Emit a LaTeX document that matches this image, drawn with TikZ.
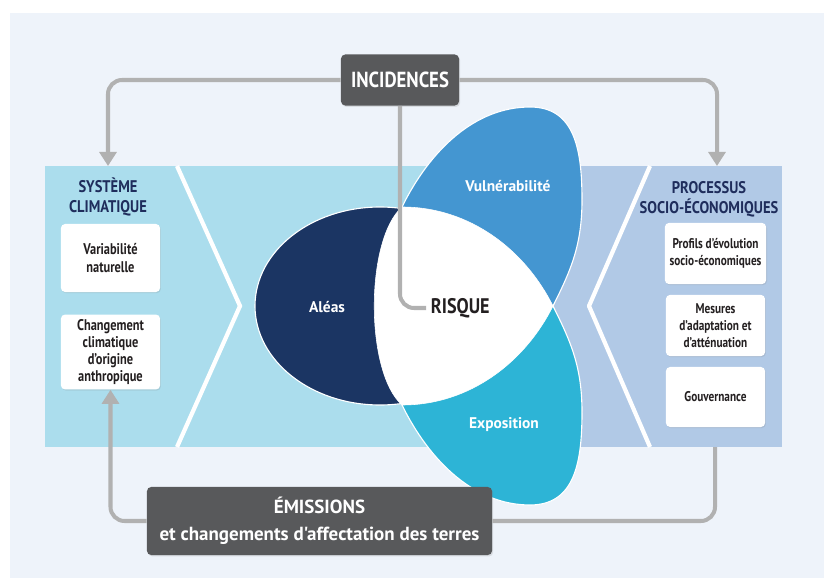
\documentclass[tikz,border=0pt]{standalone}
\usepackage{fontspec}
\setmainfont{PT Sans}[FakeStretch=0.8]
\newfontfamily\pleine{PT Sans}
\newfontfamily\etroite{PT Sans}[FakeStretch=0.86]
\usetikzlibrary{arrows.meta,shadows}
\definecolor{fond}{HTML}{EEF3FA}
\definecolor{bleuclair}{HTML}{ABDDED}
\definecolor{lavande}{HTML}{B1C9E6}
\definecolor{aleas}{HTML}{1B3563}
\definecolor{vuln}{HTML}{4496D1}
\definecolor{expo}{HTML}{2DB4D6}
\definecolor{ardoise}{HTML}{58595B}
\definecolor{gris}{HTML}{B1B1B1}
\definecolor{marine}{HTML}{1F2D5C}
\definecolor{texte}{HTML}{231F20}
\tikzset{
  boite/.style={fill=white, rounded corners=3pt, align=center, text=texte,
    font=\bfseries\fontsize{10}{12}\selectfont, minimum width=2.48cm,
    drop shadow={opacity=0.18, shadow xshift=0.6pt, shadow yshift=-0.8pt}},
  bloc/.style={fill=ardoise, rounded corners=3pt, align=center, text=white,
    drop shadow={opacity=0.2, shadow xshift=0.8pt, shadow yshift=-1pt}},
  titre/.style={align=center, text=marine, font=\etroite\bfseries\fontsize{12}{14}\selectfont},
  etiquette/.style={text=white, font=\pleine\bfseries\fontsize{11}{13}\selectfont},
  lien/.style={draw=gris, line width=2.85pt, rounded corners=10pt},
  fleche/.style={lien, -{Triangle[width=12pt,length=10pt]}}
}
\begin{document}
\begin{tikzpicture}[x=0.025cm, y=-0.025cm]
\useasboundingbox (0,0) rectangle (824,578);
\fill[white] (0,0) rectangle (824,578);
\fill[fond] (10,13) rectangle (824,578);
\fill[bleuclair] (45,166) rectangle (545,447);
\fill[lavande] (545,166) rectangle (782,447);
\draw[white, line width=3pt] (177,166) -- (240,306) -- (177,447);
\draw[white, line width=3pt, line join=round] (650,166) -- (589,306) -- (650,447);

\filldraw[vuln, draw=white, line width=0.8pt] (402,207) .. controls (430,150) and (475,107) .. (530,107)
  .. controls (575,107) and (582,150) .. (582,200) .. controls (582,245) and (571,270) .. (553,306)
  .. controls (520,300) and (420,260) .. cycle;
\filldraw[expo, draw=white, line width=0.8pt] (402,405) .. controls (430,462) and (475,505) .. (530,505)
  .. controls (575,505) and (582,462) .. (582,412) .. controls (582,367) and (571,342) .. (553,306)
  .. controls (520,312) and (420,352) .. cycle;
\filldraw[aleas, draw=white, line width=0.8pt] (380,306) ellipse [x radius=125, y radius=99];
\filldraw[white] (402,207) .. controls (470,207) and (525,250) .. (553,306)
  .. controls (525,362) and (470,405) .. (402,405) .. controls (365,372) and (365,240) .. cycle;

\node[etiquette] (alea) at (327,307) {Aléas};
\node[etiquette] (vulnerab) at (508,186) {Vulnérabilité};
\node[etiquette] (expos) at (504,425) {Exposition};
\node[anchor=west, text=texte, font=\etroite\bfseries\fontsize{15}{17}\selectfont] (risque) at (426,308) {RISQUE};

\node[titre] (sys) at (108,197) {SYSTÈME\\CLIMATIQUE};
\node[boite, minimum height=1.7cm, font=\bfseries\fontsize{11}{12.2}\selectfont] (var) at (110.5,258) {Variabilité\\naturelle};
\node[boite, minimum height=1.75cm, font=\bfseries\fontsize{11}{12.2}\selectfont] (chg) at (110.5,352) {Changement\\climatique\\d'origine\\anthropique};

\node[titre] (soc) at (709,199) {PROCESSUS\\SOCIO-ÉCONOMIQUES};
\node[boite, minimum height=1.53cm] (prof) at (715.5,253.5) {Profils d'évolution\\socio-économiques};
\node[boite, minimum height=1.53cm] (mes) at (715.5,325.5) {Mesures\\d'adaptation et\\d'atténuation};
\node[boite, minimum height=1.5cm] (gouv) at (715.5,397) {Gouvernance};

\node[bloc, minimum width=2.95cm, minimum height=1.275cm, font=\etroite\bfseries\fontsize{15.5}{18}\selectfont] (inc) at (400,80) {INCIDENCES};
\node[bloc, minimum width=8.625cm, minimum height=1.7cm, font=\pleine\bfseries\fontsize{13.5}{19}\selectfont] (emi) at (319.5,521) {ÉMISSIONS\\et changements d'affectation des terres};

\coordinate (sysIn) at (108,166);
\coordinate (socIn) at (717,166);
\coordinate (socOut) at (715,447);
\draw[fleche] (inc.west) -| (sysIn);
\draw[fleche] (inc.east) -| (socIn);
\draw[lien] (inc.south) |- (risque.west);
\draw[fleche] (emi.west) -| (chg.south);
\draw[lien] (socOut) |- (emi.east);
\end{tikzpicture}
\end{document}
